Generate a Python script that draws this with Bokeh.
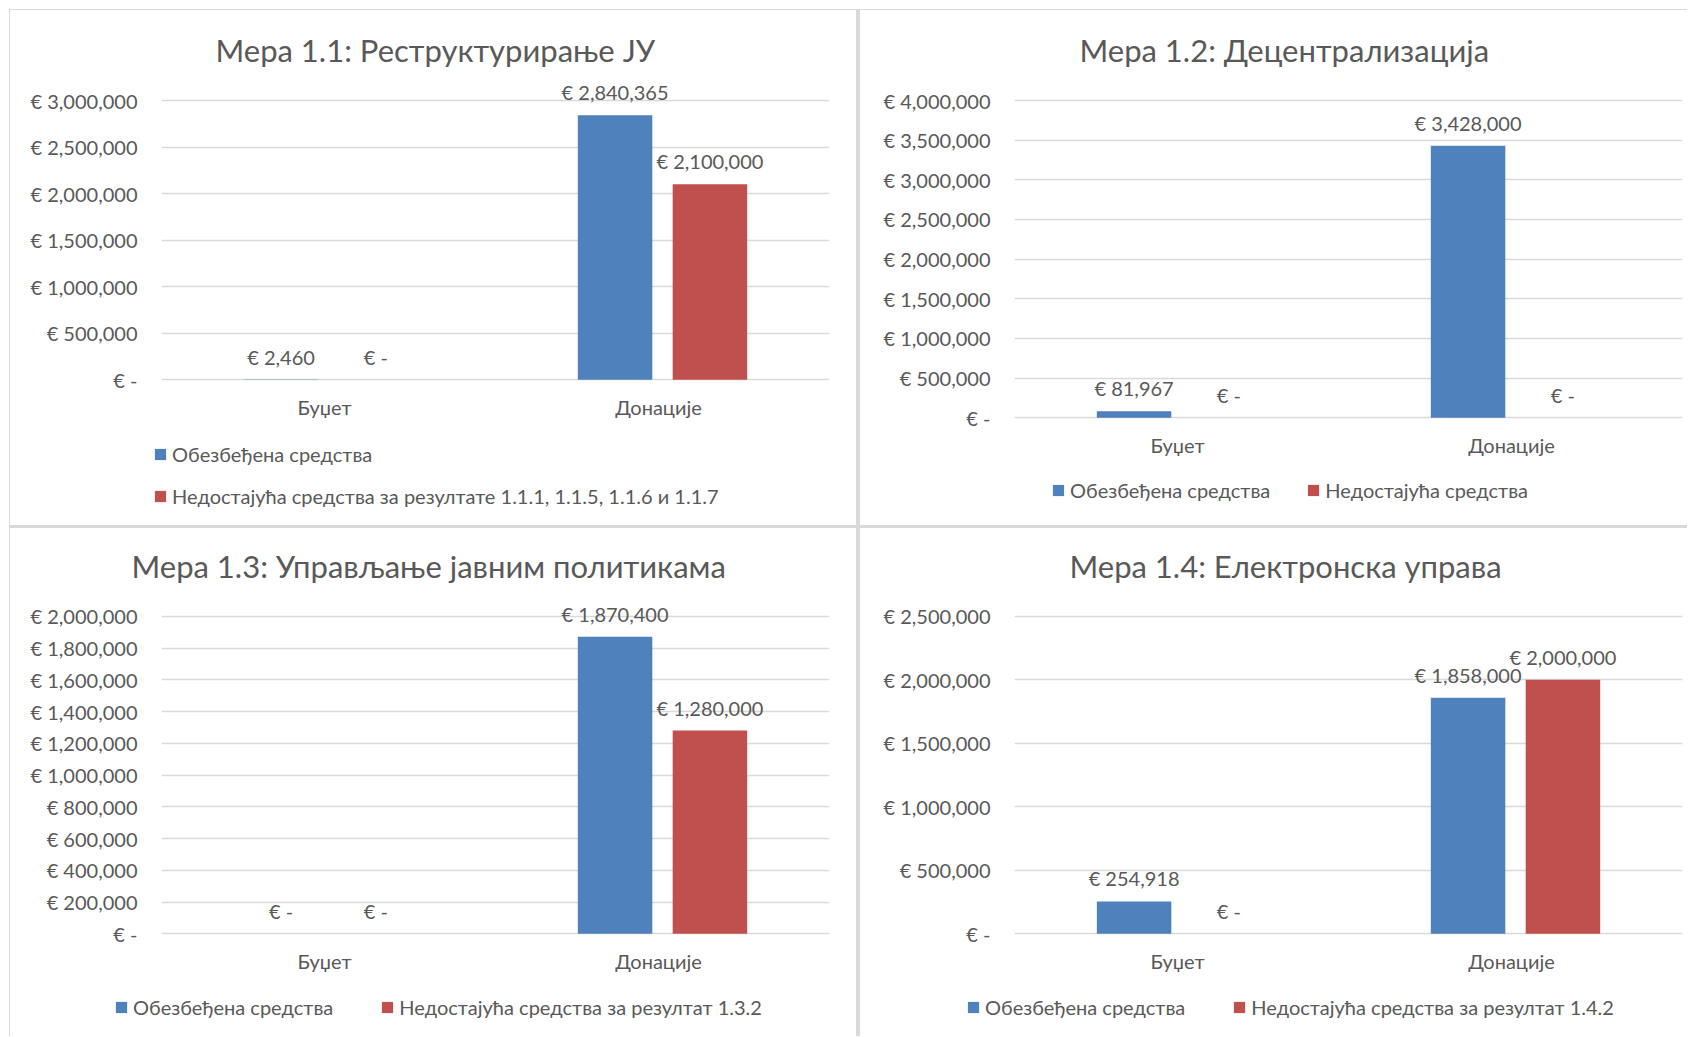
from bokeh.plotting import figure
from bokeh.models import (ColumnDataSource, FactorRange, Range1d, FixedTicker,
                          CustomJSTickFormatter, Title, LabelSet, Legend, LegendItem)
from bokeh.transform import dodge
from bokeh.layouts import row, column
from bokeh.embed import file_html
from bokeh.resources import INLINE
from bokeh.core.properties import value

# ---------------- data ----------------
categories = ["Буџет", "Донације"]
secured_label = "Обезбеђена средства"

m11_title = "Мера 1.1: Реструктурирање ЈУ"
m11_secured = [2460, 2840365]
m11_missing = [0, 2100000]
m11_missing_label = "Недостајућа средства за резултате 1.1.1, 1.1.5, 1.1.6 и 1.1.7"
m11_ticks = [0, 500000, 1000000, 1500000, 2000000, 2500000, 3000000]

m12_title = "Мера 1.2: Децентрализација"
m12_secured = [81967, 3428000]
m12_missing = [0, 0]
m12_missing_label = "Недостајућа средства"
m12_ticks = [0, 500000, 1000000, 1500000, 2000000, 2500000, 3000000, 3500000, 4000000]

m13_title = "Мера 1.3: Управљање јавним политикама"
m13_secured = [0, 1870400]
m13_missing = [0, 1280000]
m13_missing_label = "Недостајућа средства за резултат 1.3.2"
m13_ticks = [0, 200000, 400000, 600000, 800000, 1000000, 1200000, 1400000,
             1600000, 1800000, 2000000]

m14_title = "Мера 1.4: Електронска управа"
m14_secured = [254918, 1858000]
m14_missing = [0, 2000000]
m14_missing_label = "Недостајућа средства за резултат 1.4.2"
m14_ticks = [0, 500000, 1000000, 1500000, 2000000, 2500000]

# ---------------- style ----------------
FONT = "Lato"
TXT = "#595959"
BLUE = "#4F81BD"
RED = "#C0504D"
GRID = "#d9d9d9"
BAR_W = 0.223
OFF = 0.142
WHITE_BG = {"background-color": "white"}


def euro(v):
    return "€ -" if v == 0 else "€ {:,}".format(v)


def make_panel(title, secured, missing, missing_label, ticks, w, h, leg_h, borders,
               zero_px, top_px, title_offset, legend_xy, orientation, leg_spacing):
    """borders: min borders (left, right, top, bottom) of the chart in px.
    zero_px / top_px: distance in px from the chart top to the 0 line and
    to the top tick line.  leg_h: height of the legend strip under the chart."""
    bl, br, bt, bb = borders
    per_px = ticks[-1] / (zero_px - top_px)
    y_start = -(h - bb - zero_px) * per_px
    y_end = (zero_px - bt) * per_px
    src = ColumnDataSource(dict(
        cat=categories, secured=secured, missing=missing, base=[0] * len(categories),
        secured_text=[euro(v) for v in secured],
        missing_text=[euro(v) for v in missing]))

    p = figure(x_range=FactorRange(*categories), y_range=Range1d(y_start, y_end),
               width=w, height=h, title=None, output_backend="svg",
               toolbar_location=None, min_border_left=bl, min_border_right=br,
               min_border_top=bt, min_border_bottom=bb, styles=WHITE_BG)
    p.frame_align = False
    p.outline_line_color = None
    p.background_fill_color = None
    p.border_fill_color = "white"
    p.xgrid.grid_line_color = None
    p.ygrid.grid_line_color = GRID
    p.ygrid.grid_line_width = 1.3
    p.xaxis.visible = False

    p.yaxis.ticker = FixedTicker(ticks=ticks)
    p.yaxis.formatter = CustomJSTickFormatter(
        code="return tick == 0 ? '€ -' : '€ ' + tick.toLocaleString('en-US');")
    p.yaxis.axis_line_color = None
    p.yaxis.major_tick_line_color = None
    p.yaxis.minor_tick_line_color = None
    p.yaxis.major_label_text_font = FONT
    p.yaxis.major_label_text_font_size = "20px"
    p.yaxis.major_label_text_color = TXT
    p.yaxis.major_label_standoff = 18

    p.vbar(x=dodge("cat", -OFF, range=p.x_range), top="secured", width=BAR_W,
           source=src, fill_color=BLUE, line_color=None)
    p.vbar(x=dodge("cat", OFF, range=p.x_range), top="missing", width=BAR_W,
           source=src, fill_color=RED, line_color=None)

    for xoff, col, txt in ((-OFF, "secured", "secured_text"), (OFF, "missing", "missing_text")):
        p.add_layout(LabelSet(x=dodge("cat", xoff, range=p.x_range), y=col, text=txt,
                              source=src, text_align="center", text_baseline="middle",
                              y_offset=23, text_font=value(FONT),
                              text_font_size="20px", text_color=TXT))

    # category labels under the zero line
    p.add_layout(LabelSet(x="cat", y="base", text="cat", source=src,
                          text_align="center", text_baseline="middle",
                          x_offset=-4, y_offset=-27,
                          text_font=value(FONT), text_font_size="20px", text_color=TXT))

    p.add_layout(Title(text=title, align="left", offset=title_offset,
                       vertical_align="bottom", standoff=3, text_font=FONT,
                       text_font_size="31px", text_font_style="normal",
                       text_color=TXT), "above")

    # legend strip: same series (hidden renderers), legend drawn inside its frame
    lg = figure(x_range=FactorRange(*categories), y_range=Range1d(-2, -1),
                width=w, height=leg_h, title=None, output_backend="svg",
                toolbar_location=None, x_axis_type=None, y_axis_type=None,
                min_border=0, styles=WHITE_BG)
    lg.frame_align = False
    lg.outline_line_color = None
    lg.background_fill_color = None
    lg.border_fill_color = "white"
    lg.grid.visible = False
    l1 = lg.vbar(x="cat", top="secured", width=BAR_W, source=src,
                 fill_color=BLUE, line_color=None)
    l2 = lg.vbar(x="cat", top="missing", width=BAR_W, source=src,
                 fill_color=RED, line_color=None)
    l1.visible = False
    l2.visible = False
    legend = Legend(items=[LegendItem(label=secured_label, renderers=[l1]),
                           LegendItem(label=missing_label, renderers=[l2])],
                    location=legend_xy, orientation=orientation,
                    glyph_width=14, glyph_height=14, label_standoff=5,
                    spacing=leg_spacing, padding=0, margin=0,
                    border_line_color=None, background_fill_alpha=0,
                    label_text_font=FONT, label_text_font_size="20px",
                    label_text_color=TXT, label_height=24)
    lg.add_layout(legend)
    return column(p, lg, spacing=0)


c1 = make_panel(m11_title, m11_secured, m11_missing, m11_missing_label, m11_ticks,
                846, 420, 95, (151, 27, 60, 2), 369.3, 90, 54, (143, 17), "vertical", 18)
c2 = make_panel(m12_title, m12_secured, m12_missing, m12_missing_label, m12_ticks,
                827, 460, 55, (154, 5, 60, 2), 407.3, 90, 65, (191, 23), "horizontal", 36)
c3 = make_panel(m13_title, m13_secured, m13_missing, m13_missing_label, m13_ticks,
                846, 452, 56, (151, 27, 58, 2), 405.3, 87.8, -30, (104, 17), "horizontal", 47)
c4 = make_panel(m14_title, m14_secured, m14_missing, m14_missing_label, m14_ticks,
                827, 452, 56, (154, 5, 58, 2), 405.3, 87.8, 55, (106, 17), "horizontal", 47)

layout = column(row(c1, c2, spacing=4), row(c3, c4, spacing=4), spacing=3,
                styles={"background-color": GRID, "padding": "1px 0px 0px 1px",
                        "margin": "9px 0px 0px 9px"})

open("out.html", "w").write(file_html(layout, INLINE))
